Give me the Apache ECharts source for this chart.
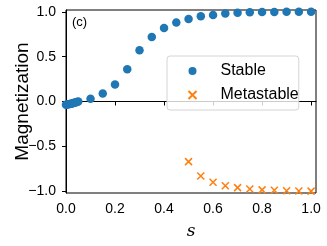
<!DOCTYPE html>
<html>
<head>
<meta charset="utf-8">
<script src="https://cdn.jsdelivr.net/npm/echarts@6/dist/echarts.min.js"></script>
<style>
html, body { margin: 0; padding: 0; background: #fff; }
#chart { width: 327px; height: 246px; }
</style>
</head>
<body>
<div id="chart"></div>
<script>
// ---- data ----
const sStable = [0, 0.005, 0.01, 0.015, 0.02, 0.025, 0.03, 0.035, 0.04, 0.045, 0.05,
  0.1, 0.15, 0.2, 0.25, 0.3, 0.35, 0.4, 0.45, 0.5, 0.55, 0.6, 0.65, 0.7, 0.75, 0.8, 0.85, 0.9, 0.95, 1.0];
const mStable = [-0.035, -0.033, -0.030, -0.027, -0.024, -0.021, -0.017, -0.013, -0.009, -0.005, -0.001,
  0.03, 0.09, 0.19, 0.36, 0.57, 0.72, 0.82, 0.88, 0.92, 0.95, 0.965, 0.98, 0.99, 0.995, 0.997, 0.999, 1.0, 1.0, 1.0];
const sMeta = [0.5, 0.55, 0.6, 0.65, 0.7, 0.75, 0.8, 0.85, 0.9, 0.95, 1.0];
const mMeta = [-0.67, -0.83, -0.90, -0.94, -0.96, -0.975, -0.985, -0.99, -0.995, -0.997, -0.999];
const xTicks = [0, 0.2, 0.4, 0.6, 0.8, 1.0];
const yTicks = [-1.0, -0.5, 0.0, 0.5, 1.0];
const seriesNames = ['Stable', 'Metastable'];
const panelLabel = '(c)';
const xLabel = 's';
const yLabel = 'Magnetization';

const sans = 'Liberation Sans';
const fmt = v => (v < 0 ? '\u2212' : '') + Math.abs(v).toFixed(1);

const chart = echarts.init(document.getElementById('chart'), null, { renderer: 'canvas' });
chart.setOption({
  animation: false,
  backgroundColor: '#fff',
  grid: { left: 66, right: 11, top: 10, bottom: 53, show: true, borderColor: '#000', borderWidth: 1,
    backgroundColor: 'transparent', containLabel: false, outerBoundsMode: 'none' },
  xAxis: {
    type: 'value', min: 0, max: 1.02,
    splitLine: { show: false },
    axisLine: { show: true, lineStyle: { color: '#000', width: 1 } },
    axisTick: { show: true, inside: false, length: 4, lineStyle: { color: '#000', width: 1 }, customValues: xTicks },
    axisLabel: { customValues: xTicks, formatter: fmt, color: '#000', fontFamily: sans, fontSize: 14, margin: 9 },
    name: xLabel, nameLocation: 'middle', nameGap: 30, nameMoveOverlap: false,
    nameTextStyle: { fontFamily: 'DejaVu Serif', fontStyle: 'italic', fontSize: 17, color: '#000' }
  },
  yAxis: {
    type: 'value', min: -1.02, max: 1.02,
    splitLine: { show: false },
    axisLine: { show: true, lineStyle: { color: '#000', width: 1 } },
    axisTick: { show: true, inside: false, length: 4, lineStyle: { color: '#000', width: 1 }, customValues: yTicks },
    axisLabel: { customValues: yTicks, formatter: fmt, color: '#000', fontFamily: sans, fontSize: 14, margin: 10 },
    name: yLabel, nameLocation: 'middle', nameGap: 34, nameRotate: 90, nameMoveOverlap: false,
    nameTextStyle: { fontFamily: sans, fontSize: 19, color: '#000' }
  },
  legend: {
    orient: 'vertical', left: 167, top: 56,
    padding: [7, 0, 7, 19],
    itemWidth: 8, itemHeight: 8, itemGap: 8,
    backgroundColor: 'rgba(255,255,255,0.8)',
    borderColor: '#d4d4d4', borderWidth: 1, borderRadius: 3,
    textStyle: { fontFamily: sans, fontSize: 16, color: '#000', lineHeight: 16, padding: [0, 0, 0, 19] },
    data: seriesNames
  },
  graphic: [{
    type: 'text', left: 72, top: 16,
    style: { text: panelLabel, fontFamily: sans, fontSize: 13, fill: '#000' }
  }],
  series: [{
    name: seriesNames[0], type: 'scatter', symbol: 'circle', symbolSize: 8.5,
    itemStyle: { color: '#1f77b4', opacity: 1 },
    data: sStable.map((s, i) => [s, mStable[i]])
  }, {
    name: seriesNames[1], type: 'scatter', symbol: 'path://M0,0L10,10M10,0L0,10', symbolSize: 7,
    itemStyle: { color: 'none', borderColor: '#ff7f0e', borderWidth: 1.5, opacity: 1 },
    data: sMeta.map((s, i) => [s, mMeta[i]])
  }]
});
</script>
</body>
</html>
